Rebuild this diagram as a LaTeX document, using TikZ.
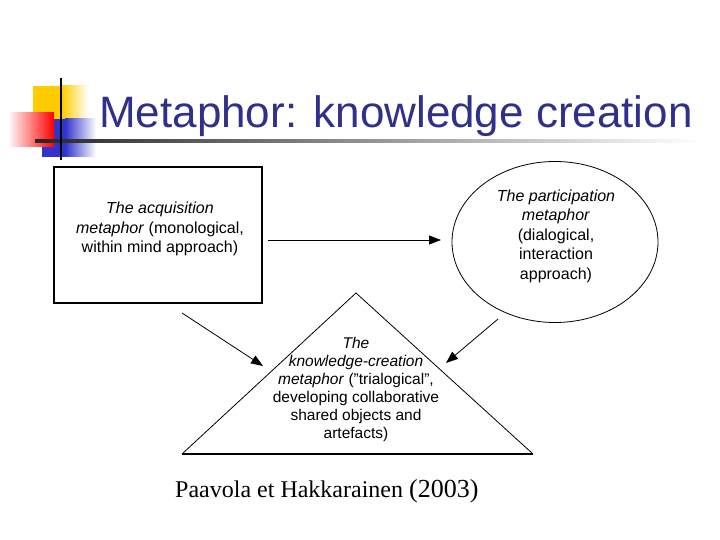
\documentclass[tikz,border=0pt]{standalone}
\usepackage{fontspec}
\setmainfont{Liberation Sans}
\newfontfamily\capfont{Liberation Serif}
\usetikzlibrary{arrows.meta,shapes.geometric}
\definecolor{titleblue}{RGB}{46,48,140}
\definecolor{sqyellow}{RGB}{255,204,0}
\definecolor{sqblue}{RGB}{51,51,204}
\tikzset{
  arr/.style={-{Triangle[length=12pt,width=9pt]}, line width=.8pt},
  body/.style={align=center, font=\fontsize{16}{19.5}\selectfont},
}
\begin{document}
\begin{tikzpicture}[x=1pt, y=-1pt]
        \useasboundingbox (0, 0) rectangle (720, 540);
        % corner decoration
        \fill[sqyellow] (33, 86) rectangle (62, 120);
        \shade[left color=sqyellow, right color=white] (62, 86) rectangle (88, 120);
        \fill[sqblue] (42, 119) rectangle (65, 157);
        \shade[left color=sqblue, right color=white] (65, 119) rectangle (96, 157);
        \shade[left color=red!5, right color=red] (10, 113) rectangle (54, 147);
        \shade[left color=black!85, right color=white] (35, 139.5) rectangle (700, 142.5);
        \draw[line width=2.5pt] (61, 78) -- (61, 160);
        \node[anchor=base west, inner sep=0, text=titleblue, font=\fontsize{44}{50}\selectfont] (title) at (99, 128) {Metaphor: knowledge creation};
        % the three metaphors
        \node[draw, line width=1.5pt, minimum width=208pt, minimum height=136pt] (acq) at (158, 235) {};
        \node[body] (acqtext) at (160, 229) {\textit{The acquisition}\\ \textit{metaphor} (monological,\\ within mind approach)};
        \node[draw, ellipse, line width=.8pt, minimum width=206pt, minimum height=161pt] (part) at (555, 242) {};
        \node[body] (parttext) at (556, 236) {\textit{The participation}\\ \textit{metaphor}\\ (dialogical,\\ interaction\\ approach)};
        \coordinate (top) at (356, 293);
        \coordinate (bl) at (182, 454);
        \coordinate (br) at (533, 454);
        \draw[line width=.8pt] (bl) -- (top) -- (br);
        \draw[line width=2pt] (bl) -- (br);
        \node[align=center, font=\fontsize{15.5}{18}\selectfont] (kc) at (356, 389) {\textit{The}\\ \textit{knowledge-creation}\\ \textit{metaphor} (”trialogical”,\\ developing collaborative\\ shared objects and\\ artefacts)};
        % arrows
        \coordinate (a1) at (268, 240);
        \coordinate (a2) at (441, 240);
        \coordinate (l1) at (182, 313);
        \coordinate (l2) at (263, 366);
        \coordinate (r1) at (498, 319);
        \coordinate (r2) at (446, 363);
        \draw[arr] (a1) -- (a2);
        \draw[arr] (l1) -- (l2);
        \draw[arr] (r1) -- (r2);
        \node[anchor=base west, inner sep=0, font=\capfont\fontsize{24}{28}\selectfont] (ref) at (175, 497) {Paavola et Hakkarainen {\fontsize{26}{28}\selectfont(2003)}};
    \end{tikzpicture}
\end{document}
